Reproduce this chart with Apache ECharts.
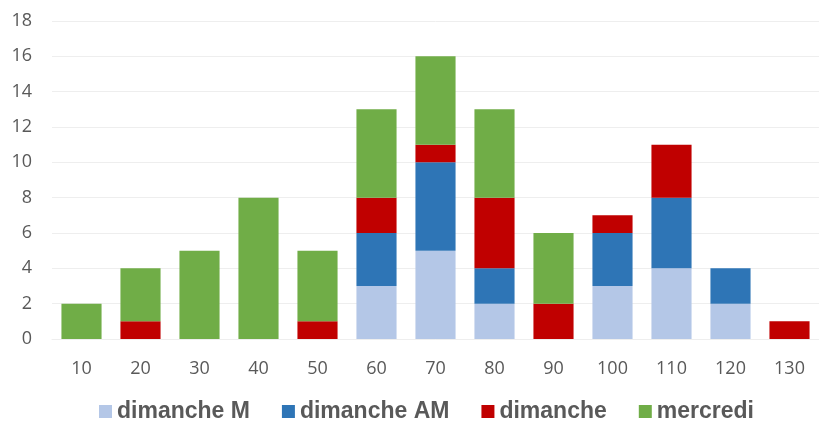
<!DOCTYPE html>
<html>
<head>
<meta charset="utf-8">
<script src="https://cdn.jsdelivr.net/npm/echarts@6/dist/echarts.min.js"></script>
<style>
  html, body { margin: 0; padding: 0; background: #fff; }
  #chart { width: 819px; height: 423px; }
</style>
</head>
<body>
<div id="chart"></div>
<script>
const categories = ['10', '20', '30', '40', '50', '60', '70', '80', '90', '100', '110', '120', '130'];
const dimancheM  = [0, 0, 0, 0, 0, 3, 5, 2, 0, 3, 4, 2, 0];
const dimancheAM = [0, 0, 0, 0, 0, 3, 5, 2, 0, 3, 4, 2, 0];
const dimanche   = [0, 1, 0, 0, 1, 2, 1, 4, 2, 1, 3, 0, 1];
const mercredi   = [2, 3, 5, 8, 4, 5, 5, 5, 4, 0, 0, 0, 0];

const chart = echarts.init(document.getElementById('chart'));

const makeSeries = (name, data, color) => ({
  name: name,
  type: 'bar',
  stack: 'total',
  data: data,
  barWidth: '68%',
  itemStyle: { color: color },
  emphasis: { disabled: true }
});

chart.setOption({
  animation: false,
  grid: { left: 52, right: 0, top: 21, bottom: 84 },
  legend: {
    bottom: -5,
    left: 94,
    itemWidth: 13,
    itemHeight: 13,
    itemGap: 32,
    icon: 'rect',
    textStyle: { color: '#595959', fontSize: 23, fontWeight: 'bold', fontFamily: 'Liberation Sans' },
    data: ['dimanche M', 'dimanche AM', 'dimanche', 'mercredi']
  },
  xAxis: {
    type: 'category',
    data: categories,
    axisLine: { lineStyle: { color: '#eeeeee' } },
    axisTick: { show: false },
    axisLabel: { color: '#595959', fontSize: 18, margin: 21, fontFamily: 'Open Sans' }
  },
  yAxis: {
    type: 'value',
    min: 0,
    max: 18,
    interval: 2,
    axisLine: { show: false },
    axisTick: { show: false },
    axisLabel: { color: '#595959', fontSize: 18, margin: 20, fontFamily: 'Open Sans' },
    splitLine: { lineStyle: { color: '#eeeeee' } }
  },
  series: [
    makeSeries('dimanche M', dimancheM, '#b4c7e7'),
    makeSeries('dimanche AM', dimancheAM, '#2e75b6'),
    makeSeries('dimanche', dimanche, '#c00000'),
    makeSeries('mercredi', mercredi, '#70ad47')
  ]
});

window.addEventListener('resize', () => {
  chart.resize();
});
</script>
</body>
</html>
